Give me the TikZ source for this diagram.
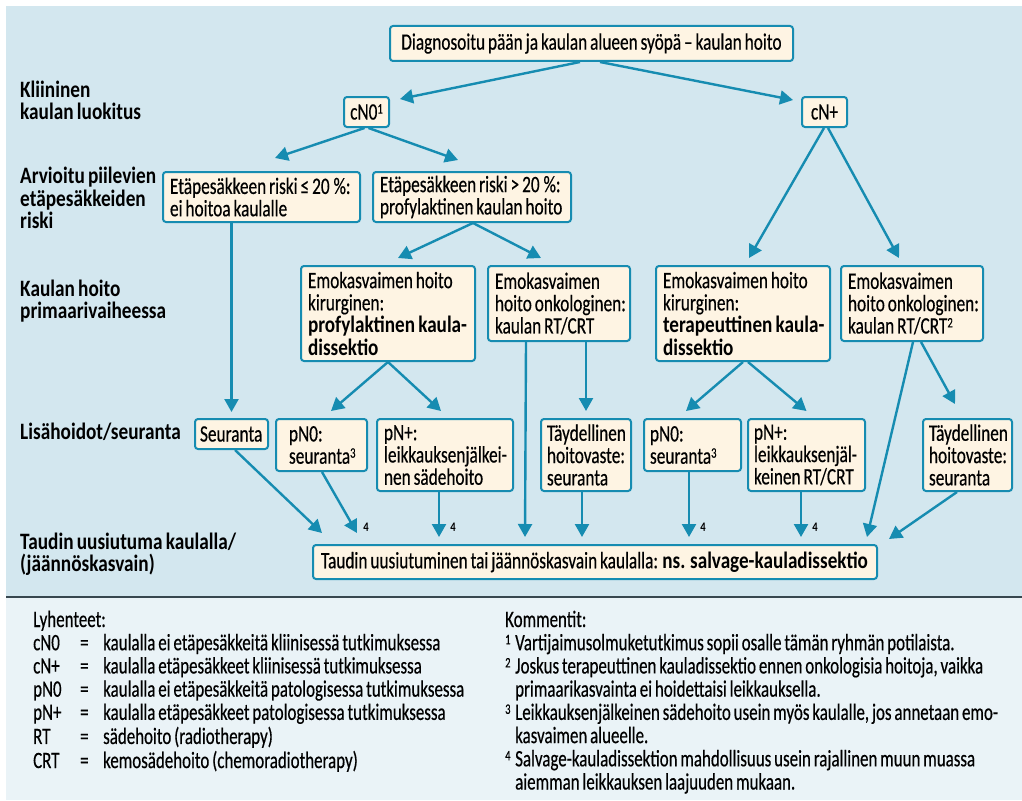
\documentclass[tikz,border=0pt]{standalone}
\usepackage{fontspec}
\usetikzlibrary{arrows.meta}
\setmainfont{Carlito}[FakeStretch=0.72, WordSpace=0.75, FakeBold=0.4]
\newfontfamily\bxfont{Carlito}[FakeStretch=0.735, WordSpace=0.75, FakeBold=0.4]
\newfontfamily\bfam{Carlito}[FakeStretch=0.82, WordSpace=0.75]
\newfontfamily\bxbold{Carlito}[FakeStretch=0.815, WordSpace=0.75]
\newcommand\B[1]{{\bxbold\bfseries #1}}
\newcommand\lx[1]{\mbox{#1}}
\newcommand\sups[1]{\smash{\raisebox{6pt}{\fontsize{14.5}{14.5}\selectfont #1}}}
\newcommand\fs{\fontsize{23.5}{22.3}\selectfont}
\newcommand\fn{\fontsize{23.5}{23}\selectfont}
\definecolor{bgblue}{HTML}{D3E7EF}
\definecolor{cream}{HTML}{FEF4E3}
\definecolor{tl}{HTML}{168CB1}
\definecolor{panel}{HTML}{EAF3F7}
\definecolor{sepc}{HTML}{37474F}
\tikzset{
  natsp/.style={execute at begin node={\spaceskip=0pt\xspaceskip=0pt\relax}},
  bx/.style={draw=tl, fill=cream, line width=2pt, rounded corners=3pt,
    inner xsep=7pt, inner ysep=0pt, align=left, anchor=north west, font=\bxfont\fs, natsp},
  arr/.style={draw=tl, line width=2.4pt, -{Triangle[length=13pt,width=14pt]}},
  lab/.style={anchor=west, align=left, inner sep=0pt, font=\bfam\bfseries\fs, natsp},
  four/.style={inner sep=0pt, font=\bfam\bfseries\fontsize{13}{13}\selectfont},
}
\begin{document}
\begin{tikzpicture}[x=1pt,y=-1pt]
\useasboundingbox (0,0) rectangle (1022,800);
\fill[white] (0,0) rectangle (1022,800);
\fill[bgblue] (6,6) rectangle (1022,597);
\fill[panel] (6,597) rectangle (1022,800);
\draw[sepc, line width=2pt] (6,597) -- (1022,597);

% row labels
\node[lab] (L1) at (20,100) {Kliininen\\kaulan luokitus};
\node[lab] (L2) at (20,198) {Arvioitu piilevien\\etäpesäkkeiden\\riski};
\node[lab] (L3) at (20,301) {Kaulan hoito\\primaarivaiheessa};
\node[lab] (L4) at (20,432) {Lisähoidot/seuranta};
\node[lab] (L5) at (20,554) {Taudin uusiutuma kaulalla/\\(jäännöskasvain)};

% boxes
\node[bx, align=center, inner xsep=8pt, text width=387pt, minimum height=35pt] (top) at (389,25) {\lx{Diagnosoitu pään ja kaulan alueen syöpä – kaulan hoito}};
\node[bx, align=center, inner xsep=4pt, text width=37pt, minimum height=30pt] (cn0) at (343,96) {\lx{cN0\sups{1}}};
\node[bx, align=center, inner xsep=4pt, text width=37pt, minimum height=30pt] (cnp) at (801,96) {\lx{cN+}};
\node[bx, text width=183pt, minimum height=50pt] (r1) at (162,171) {\lx{Etäpesäkkeen riski ≤ 20\,\%:}\\\lx{ei hoitoa kaulalle}};
\node[bx, text width=184pt, minimum height=50pt] (r2) at (372,171) {\lx{Etäpesäkkeen riski > 20\,\%:}\\\lx{profylaktinen kaulan hoito}};
\node[bx, text width=160pt, minimum height=95pt] (e1) at (300,265) {\lx{Emokasvaimen hoito}\\\lx{kirurginen:}\\\lx{\B{profylaktinen kaula-}}\\\lx{\B{dissektio}}};
\node[bx, text width=128pt, minimum height=75pt] (e2) at (487,265) {\lx{Emokasvaimen}\\\lx{hoito onkologinen:}\\\lx{kaulan RT/CRT}};
\node[bx, text width=160pt, minimum height=95pt] (e3) at (655,265) {\lx{Emokasvaimen hoito}\\\lx{kirurginen:}\\\lx{\B{terapeuttinen kaula-}}\\\lx{\B{dissektio}}};
\node[bx, text width=128pt, minimum height=75pt] (e4) at (840,265) {\lx{Emokasvaimen}\\\lx{hoito onkologinen:}\\\lx{kaulan RT/CRT\sups{2}}};
\node[bx, inner xsep=5pt, text width=63pt, minimum height=30pt] (s1) at (194,418) {\lx{Seuranta}};
\node[bx, inner xsep=13pt, text width=65pt, minimum height=52pt] (p1) at (275,418) {\lx{pN0:}\\\lx{seuranta\sups{3}}};
\node[bx, text width=122pt, minimum height=72pt] (q1) at (376,418) {\lx{pN+:}\\\lx{leikkauksenjälkei-}\\\lx{nen sädehoito}};
\node[bx, inner xsep=6pt, text width=78pt, minimum height=72pt] (t1) at (540,418) {\lx{Täydellinen}\\\lx{hoitovaste:}\\\lx{seuranta}};
\node[bx, inner xsep=6pt, text width=85pt, minimum height=52pt] (p2) at (643,418) {\lx{pN0:}\\\lx{seuranta\sups{3}}};
\node[bx, inner xsep=6pt, text width=105pt, minimum height=72pt] (q2) at (747,418) {\lx{pN+:}\\\lx{leikkauksenjäl-}\\\lx{keinen RT/CRT}};
\node[bx, inner xsep=6pt, text width=77pt, minimum height=72pt] (t2) at (922,418) {\lx{Täydellinen}\\\lx{hoitovaste:}\\\lx{seuranta}};
\node[bx, inner xsep=8pt, text width=548pt, minimum height=34pt] (bot) at (312,544) {\lx{Taudin uusiutuminen tai jäännöskasvain kaulalla: \B{ns. salvage-kauladissektio}}};

% arrows
\draw[arr] ([shift={(191,0)}]top.south west) -- ([shift={(10,3)}]cn0.north east);
\draw[arr] ([shift={(211,0)}]top.south west) -- ([shift={(-8,4)}]cnp.north west);
\draw[arr] ([shift={(-2,0)}]cn0.south) -- ([shift={(13.5,-13)}]r1.north);
\draw[arr] ([shift={(2,0)}]cn0.south) -- ([shift={(-14,-11)}]r2.north);
\draw[arr] ([shift={(-0.5,0)}]cnp.south) -- ([shift={(6,-7)}]e3.north);
\draw[arr] ([shift={(3.5,0)}]cnp.south) -- ([shift={(-13,-7)}]e4.north);
\draw[arr] (s1.north |- r1.south) -- ([shift={(0,-6)}]s1.north);
\draw[arr] ([shift={(1,0)}]r2.south) -- ([shift={(10,-7)}]e1.north);
\draw[arr] ([shift={(1,0)}]r2.south) -- ([shift={(-18,-7)}]e2.north);
\draw[arr] (e1.south) -- ([shift={(9.5,-7)}]p1.north);
\draw[arr] (e1.south) -- ([shift={(-4,-7)}]q1.north);
\draw[arr] ([shift={(-33,0)}]e2.south) -- ([shift={(213,-7)}]bot.north west);
\draw[arr] (t1.north |- e2.south) -- ([shift={(0,-7)}]t1.north);
\draw[arr] (e3.south) -- ([shift={(-6.5,-7)}]p2.north);
\draw[arr] ([shift={(5,0)}]e3.south) -- ([shift={(0,-7)}]q2.north);
\draw[arr] ([shift={(1,0)}]e4.south) -- ([shift={(-11,-7)}]bot.north east);
\draw[arr] ([shift={(9,0)}]e4.south) -- ([shift={(-12.5,-14)}]t2.north);
\draw[arr] ([shift={(41,0)}]s1.south west) -- ([shift={(10,-11)}]bot.north west);
\draw[arr] ([shift={(47,0)}]p1.south west) -- ([shift={(45,-11)}]bot.north west);
\draw[arr] ([shift={(63,0)}]q1.south west) -- ([shift={(127,-7)}]bot.north west);
\draw[arr] ([shift={(42,0)}]t1.south west) -- ([shift={(270,-7)}]bot.north west);
\draw[arr] ([shift={(46,0)}]p2.south west) -- ([shift={(377,-7)}]bot.north west);
\draw[arr] ([shift={(54,0)}]q2.south west) -- ([shift={(489,-7)}]bot.north west);
\draw[arr] ([shift={(35,0)}]t2.south west) -- ([shift={(11,-5)}]bot.north east);

\node[four] (f1) at (366,527) {4};
\node[four] (f2) at (453,527) {4};
\node[four] (f3) at (703,527) {4};
\node[four] (f4) at (815,527) {4};

% notes
\node[anchor=base west, inner sep=0pt, font=\fn] (abbr) at (33,627) {\begin{tabular}[t]{@{}p{47pt}@{}p{23pt}@{}l@{}}
\multicolumn{3}{@{}l@{}}{Lyhenteet:}\\
cN0 & = & kaulalla ei etäpesäkkeitä kliinisessä tutkimuksessa\\
cN+ & = & kaulalla etäpesäkkeet kliinisessä tutkimuksessa\\
pN0 & = & kaulalla ei etäpesäkkeitä patologisessa tutkimuksessa\\
pN+ & = & kaulalla etäpesäkkeet patologisessa tutkimuksessa\\
RT & = & sädehoito (radiotherapy)\\
CRT & = & kemosädehoito (chemoradiotherapy)
\end{tabular}};
\node[anchor=base west, inner sep=0pt, font=\fn] (comm) at (505,627) {\begin{tabular}[t]{@{}p{10pt}@{}l@{}}
\multicolumn{2}{@{}l@{}}{Kommentit:}\\
\sups{1} & Vartijaimusolmuketutkimus sopii osalle tämän ryhmän potilaista.\\
\sups{2} & Joskus terapeuttinen kauladissektio ennen onkologisia hoitoja, vaikka\\
 & primaarikasvainta ei hoidettaisi leikkauksella.\\
\sups{3} & Leikkauksenjälkeinen sädehoito usein myös kaulalle, jos annetaan emo-\\
 & kasvaimen alueelle.\\
\sups{4} & Salvage-kauladissektion mahdollisuus usein rajallinen muun muassa\\
 & aiemman leikkauksen laajuuden mukaan.
\end{tabular}};
\end{tikzpicture}
\end{document}
